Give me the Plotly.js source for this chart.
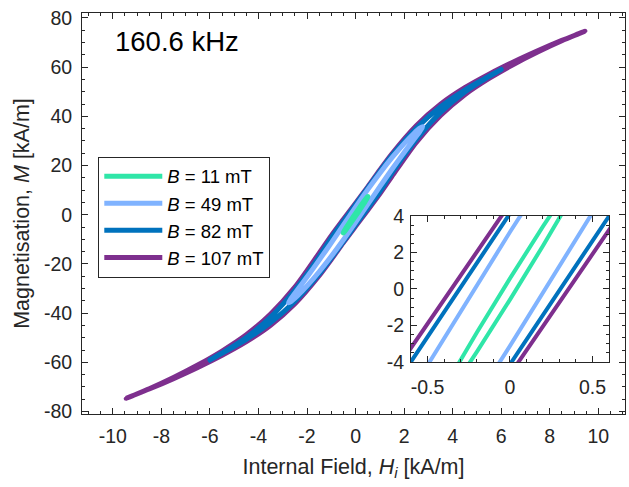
<!DOCTYPE html>
<html>
<head>
<meta charset="utf-8">
<script src="https://cdn.plot.ly/plotly-3.0.1.min.js"></script>
<style>html,body{margin:0;padding:0;background:#fff;}#chart{width:629px;height:487px;}</style>
</head>
<body>
<div id="chart"></div>
<script>
// ---- Data (H in kA/m, M in kA/m) ----
const seriesNames = ['<i>B</i> = 11 mT', '<i>B</i> = 49 mT', '<i>B</i> = 82 mT', '<i>B</i> = 107 mT'];
const seriesColors = ['rgb(47,230,168)', 'rgb(128,179,255)', 'rgb(0,114,189)', 'rgb(126,47,142)'];

// B = 11 mT loop (upper branch, then lower branch)
const H11 = [0.51, 0.48, 0.4, 0.2, 0, -0.2, -0.4, -0.48, -0.51,
             -0.48, -0.4, -0.2, 0, 0.2, 0.4, 0.48, 0.51];
const M11 = [7.39, 7.16, 6.16, 3.43, 0.58, -2.37, -5.44, -6.76, -7.39,
             -7.16, -6.16, -3.43, -0.58, 2.37, 5.44, 6.76, 7.39];

// B = 49 mT loop
const H49 = [2.77, 2.65, 2.4, 2.0, 1.5, 1.0, 0.5, 0, -0.5, -1.0, -1.5, -2.0, -2.4, -2.65, -2.77,
             -2.65, -2.4, -2.0, -1.5, -1.0, -0.5, 0, 0.5, 1.0, 1.5, 2.0, 2.4, 2.65, 2.77];
const M49 = [35.81, 35.21, 33.04, 28.93, 23.18, 16.89, 10.19, 3.12, -4.18, -11.41, -18.47, -25.32, -30.60, -33.91, -35.81,
             -35.21, -33.04, -28.93, -23.18, -16.89, -10.19, -3.12, 4.18, 11.41, 18.47, 25.32, 30.60, 33.91, 35.81];

// B = 82 mT loop
const H82 = [6.0, 5.8, 5.3, 4.5, 3.5, 2.5, 1.5, 1.0, 0.5, 0, -0.5, -1.0, -1.5, -2.5, -3.5, -4.5, -5.3, -5.8, -6.0,
             -5.8, -5.3, -4.5, -3.5, -2.5, -1.5, -1.0, -0.5, 0, 0.5, 1.0, 1.5, 2.5, 3.5, 4.5, 5.3, 5.8, 6.0];
const M82 = [59.0, 57.94, 55.22, 50.66, 43.86, 35.17, 24.1, 17.6, 10.91, 4.13, -2.65, -9.4, -17.0, -30.59, -41.58, -49.89, -55.05, -57.90, -59.0,
             -57.94, -55.22, -50.66, -43.86, -35.17, -24.1, -17.6, -10.91, -4.13, 2.65, 9.4, 17.0, 30.59, 41.58, 49.89, 55.05, 57.90, 59.0];

// B = 107 mT loop
const H107 = [9.45, 9.2, 8.5, 7.5, 6.5, 5.5, 4.5, 3.5, 2.5, 1.5, 1.0, 0.5, 0, -0.5, -1.0, -1.5, -2.5, -3.5, -4.5, -5.5, -6.5, -7.5, -8.5, -9.2, -9.45,
              -9.2, -8.5, -7.5, -6.5, -5.5, -4.5, -3.5, -2.5, -1.5, -1.0, -0.5, 0, 0.5, 1.0, 1.5, 2.5, 3.5, 4.5, 5.5, 6.5, 7.5, 8.5, 9.2, 9.45];
const M107 = [74.6, 73.62, 70.85, 66.62, 62.08, 57.14, 51.62, 44.93, 36.21, 24.8, 18.2, 11.3, 4.68, -1.87, -8.5, -15.6, -29.42, -40.35, -48.81, -55.40, -61.09, -66.16, -70.75, -73.58, -74.6,
              -73.62, -70.85, -66.62, -62.08, -57.14, -51.62, -44.93, -36.21, -24.8, -18.2, -11.3, -4.68, 1.87, 8.5, 15.6, 29.42, 40.35, 48.81, 55.40, 61.09, 66.16, 70.75, 73.58, 74.6];

// Tick labels
const xTickVals = [-10, -8, -6, -4, -2, 0, 2, 4, 6, 8, 10];
const xTickText = ['-10', '-8', '-6', '-4', '-2', '0', '2', '4', '6', '8', '10'];
const yTickVals = [-80, -60, -40, -20, 0, 20, 40, 60, 80];
const yTickText = ['-80', '-60', '-40', '-20', '0', '20', '40', '60', '80'];
const insetXTickVals = [-0.5, 0, 0.5];
const insetXTickText = ['-0.5', '0', '0.5'];
const insetYTickVals = [-4, -2, 0, 2, 4];
const insetYTickText = ['-4', '-2', '0', '2', '4'];
const annotationText = '160.6 kHz';

const loopsH = [H11, H49, H82, H107];
const loopsM = [M11, M49, M82, M107];

// ---- Build traces: draw purple first (bottom), green last (top) ----
const traces = [];
for (let i = 3; i >= 0; i--) {
  traces.push({
    x: loopsH[i], y: loopsM[i], type: 'scatter', mode: 'lines',
    name: seriesNames[i], xaxis: 'x', yaxis: 'y',
    line: {color: seriesColors[i], width: 5, shape: 'spline', smoothing: 0.8},
    hoverinfo: 'skip'
  });
}
for (let i = 3; i >= 0; i--) {
  traces.push({
    x: loopsH[i], y: loopsM[i], type: 'scatter', mode: 'lines',
    name: seriesNames[i], xaxis: 'x2', yaxis: 'y2', showlegend: false,
    line: {color: seriesColors[i], width: 4, shape: 'linear'},
    hoverinfo: 'skip'
  });
}

const axisCommon = {
  showline: true, linecolor: '#262626', linewidth: 1, mirror: 'ticks',
  ticks: 'inside', ticklen: 6, tickwidth: 1, tickcolor: '#262626',
  showgrid: false, zeroline: false, tickmode: 'array',
  tickfont: {size: 19.5, color: '#262626'}
};

const layout = {
  width: 629, height: 487,
  margin: {l: 82, r: 4, t: 13, b: 73, pad: 0},
  paper_bgcolor: '#ffffff', plot_bgcolor: '#ffffff',
  font: {family: '"Liberation Sans", Arial, sans-serif', color: '#262626', size: 19.5},
  showlegend: true,
  legend: {
    x: 0.030, y: 0.6416, xanchor: 'left', yanchor: 'top',
    bordercolor: '#262626', borderwidth: 1, bgcolor: '#ffffff',
    traceorder: 'reversed', font: {size: 18.5, color: '#000000'}, itemwidth: 58
  },
  xaxis: Object.assign({}, axisCommon, {
    domain: [0, 1], anchor: 'y', range: [-11.27, 11.1],
    tickvals: xTickVals, ticktext: xTickText, ticklabelstandoff: 5,
    minor: {dtick: 0.5, ticklen: 3, tickwidth: 1, tickcolor: '#262626', ticks: 'inside', showgrid: false},
    title: {text: 'Internal Field, <i>H</i><sub><i>i</i></sub> [kA/m]', font: {size: 21.5, color: '#262626'}, standoff: 12}
  }),
  yaxis: Object.assign({}, axisCommon, {
    domain: [0, 1], anchor: 'x', range: [-81, 82],
    tickvals: yTickVals, ticktext: yTickText, ticklabelstandoff: 5,
    minor: {dtick: 5, ticklen: 3, tickwidth: 1, tickcolor: '#262626', ticks: 'inside', showgrid: false},
    title: {text: 'Magnetisation, <i>M</i> [kA/m]', font: {size: 21.5, color: '#262626'}, standoff: 8}
  }),
  xaxis2: Object.assign({}, axisCommon, {
    domain: [0.6059, 0.9705], anchor: 'y2', range: [-0.6, 0.6],
    tickvals: insetXTickVals, ticktext: insetXTickText, ticklabelstandoff: 8,
    minor: {dtick: 0.1, ticklen: 3, tickwidth: 1, tickcolor: '#262626', ticks: 'inside', showgrid: false}
  }),
  yaxis2: Object.assign({}, axisCommon, {
    domain: [0.1297, 0.4938], anchor: 'x2', range: [-4, 4],
    tickvals: insetYTickVals, ticktext: insetYTickText, ticklabelstandoff: 2,
    minor: {dtick: 0.5, ticklen: 3, tickwidth: 1, tickcolor: '#262626', ticks: 'inside', showgrid: false}
  }),
  annotations: [{
    text: annotationText, xref: 'paper', yref: 'paper', x: 0.0571, y: 0.9277,
    xanchor: 'left', yanchor: 'middle', showarrow: false,
    font: {size: 27.5, color: '#000000'}
  }]
};

Plotly.newPlot('chart', traces, layout, {displayModeBar: false, staticPlot: true});
</script>
</body>
</html>
